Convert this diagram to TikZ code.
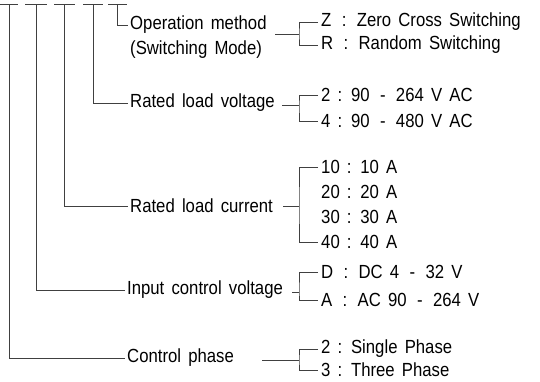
\documentclass[tikz,border=0pt]{standalone}
\usepackage{fontspec}
\setmainfont{Liberation Sans}[FakeStretch=0.88, WordSpace={1.55,1.0,0.5}]
\begin{document}
\begin{tikzpicture}[
  x=1pt, y=-1pt,
  font=\fontsize{19}{22}\selectfont,
  lbl/.style={anchor=west, inner sep=2pt},
  val/.style={anchor=west, inner sep=3pt},
  wire/.style={draw=black!75, line width=0.8pt},
]
\useasboundingbox (0,0) rectangle (540,381);
% the five code positions
\draw[wire] (0,4) -- (18,4) (25,4) -- (47,4) (54,4) -- (75,4) (83,4) -- (103,4) (108,4) -- (127,4);
\coordinate (c1) at (9,4);
\coordinate (c2) at (36,4);
\coordinate (c3) at (64,4);
\coordinate (c4) at (93,4);
\coordinate (c5) at (117,4);

% item labels
\node[lbl] (opm)   at (128,25)  {Operation method};
\node[lbl] (opmd)  at (128,50)  {(Switching Mode)};
\node[lbl] (volt)  at (128,103) {Rated load voltage};
\node[lbl] (curr)  at (128,206) {Rated load current};
\node[lbl] (inp)   at (125,290) {Input control voltage};
\node[lbl] (phase) at (125,358) {Control phase};

% option values
\node[val] (z)   at (318,22)  {Z \,:\, Zero Cross Switching};
\node[val] (r)   at (318,45)  {R \,:\, Random Switching};
\node[val] (v2)  at (318,95)  {2 : 90 \,-\, 264 V AC};
\node[val] (v4)  at (318,121) {4 : 90 \,-\, 480 V AC};
\node[val] (a10) at (318,167) {10 : 10 A};
\node[val] (a20) at (318,192) {20 : 20 A};
\node[val] (a30) at (318,217) {30 : 30 A};
\node[val] (a40) at (318,242) {40 : 40 A};
\node[val] (dc)  at (318,272) {D \,:\, DC 4 \,-\, 32 V};
\node[val] (ac)  at (318,300) {A \,:\, AC 90 \,-\, 264 V};
\node[val] (p2)  at (318,349) {2 : Single Phase};
\node[val] (p3)  at (318,370) {3 : Three Phase};

% bracket joints
\coordinate (bop)  at (299,34);
\coordinate (bvol) at (299,105);
\coordinate (bcur) at (299,206);
\coordinate (binp) at (299,292);
\coordinate (bph)  at (299,360);

% from code position to label
\draw[wire] (c5) |- (opm.west);
\draw[wire] (c4) |- (volt.west);
\draw[wire] (c3) |- (curr.west);
\draw[wire] (c2) |- (inp.west);
\draw[wire] (c1) |- (phase.west);

% from label to values
\draw[wire] (275,34) -- (bop);
\draw[wire] (z.west) -| (bop) |- (r.west);
\draw[wire] (282,105) -- (bvol);
\draw[wire] (v2.west) -| (bvol) |- (v4.west);
\draw[wire] (283,206) -- (bcur);
\draw[wire] (a10.west) -| (bcur) |- (a40.west);
\draw[wire] (292,292) -- (binp);
\draw[wire] (dc.west) -| (binp) |- (ac.west);
\draw[wire] (262,360) -- (bph);
\draw[wire] (p2.west) -| (bph) |- (p3.west);
\end{tikzpicture}
\end{document}
